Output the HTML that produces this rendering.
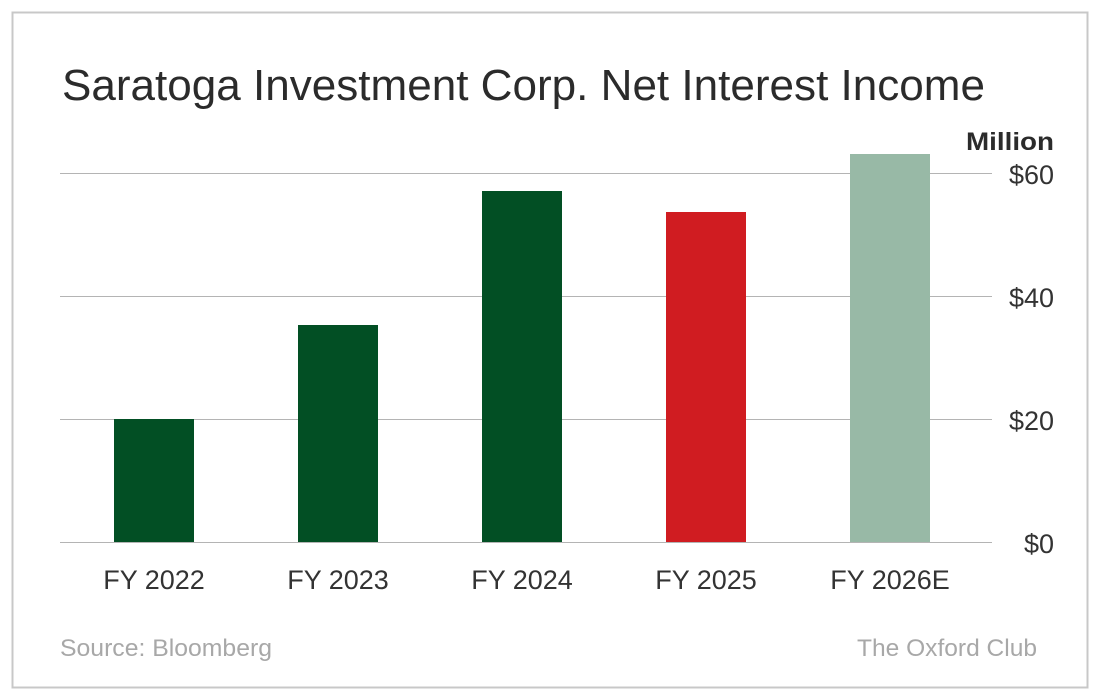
<!DOCTYPE html>
<html><head><style>
html,body{margin:0;padding:0;background:#fff;}
svg{display:block;}
text{font-family:"Liberation Sans",sans-serif;}
</style></head><body>
<svg width="1100" height="700" viewBox="0 0 1100 700">
<rect x="12.5" y="12.5" width="1075" height="675" fill="#fff" stroke="#c8c8c8" stroke-width="2"/>
<text x="62" y="100" font-size="44" fill="#2b2b2b" textLength="923" lengthAdjust="spacingAndGlyphs">Saratoga Investment Corp. Net Interest Income</text>
<text x="966" y="150" font-size="25" font-weight="bold" fill="#2b2b2b" textLength="88" lengthAdjust="spacingAndGlyphs">Million</text>
<g stroke="#b4b4b4" stroke-width="1">
<line x1="60" y1="173.5" x2="992" y2="173.5"/>
<line x1="60" y1="296.5" x2="992" y2="296.5"/>
<line x1="60" y1="419.5" x2="992" y2="419.5"/>
<line x1="60" y1="542.5" x2="992" y2="542.5"/>
</g>
<g font-size="27" fill="#333" text-anchor="end">
<text x="1054" y="184">$60</text>
<text x="1054" y="307">$40</text>
<text x="1054" y="430">$20</text>
<text x="1054" y="553">$0</text>
</g>
<rect x="114" y="419" width="80" height="123" fill="#024f24"/>
<rect x="298" y="325" width="80" height="217" fill="#024f24"/>
<rect x="482" y="191" width="80" height="351" fill="#024f24"/>
<rect x="666" y="212" width="80" height="330" fill="#d01c21"/>
<rect x="850" y="154" width="80" height="388" fill="#98b9a6"/>
<g font-size="27" fill="#333" text-anchor="middle">
<text x="154" y="589">FY 2022</text>
<text x="338" y="589">FY 2023</text>
<text x="522" y="589">FY 2024</text>
<text x="706" y="589">FY 2025</text>
<text x="890" y="589">FY 2026E</text>
</g>
<text x="60" y="656" font-size="24" fill="#a8a8a8" textLength="212" lengthAdjust="spacingAndGlyphs">Source: Bloomberg</text>
<text x="857" y="656" font-size="24" fill="#a8a8a8" textLength="180" lengthAdjust="spacingAndGlyphs">The Oxford Club</text>
</svg>
</body></html>
